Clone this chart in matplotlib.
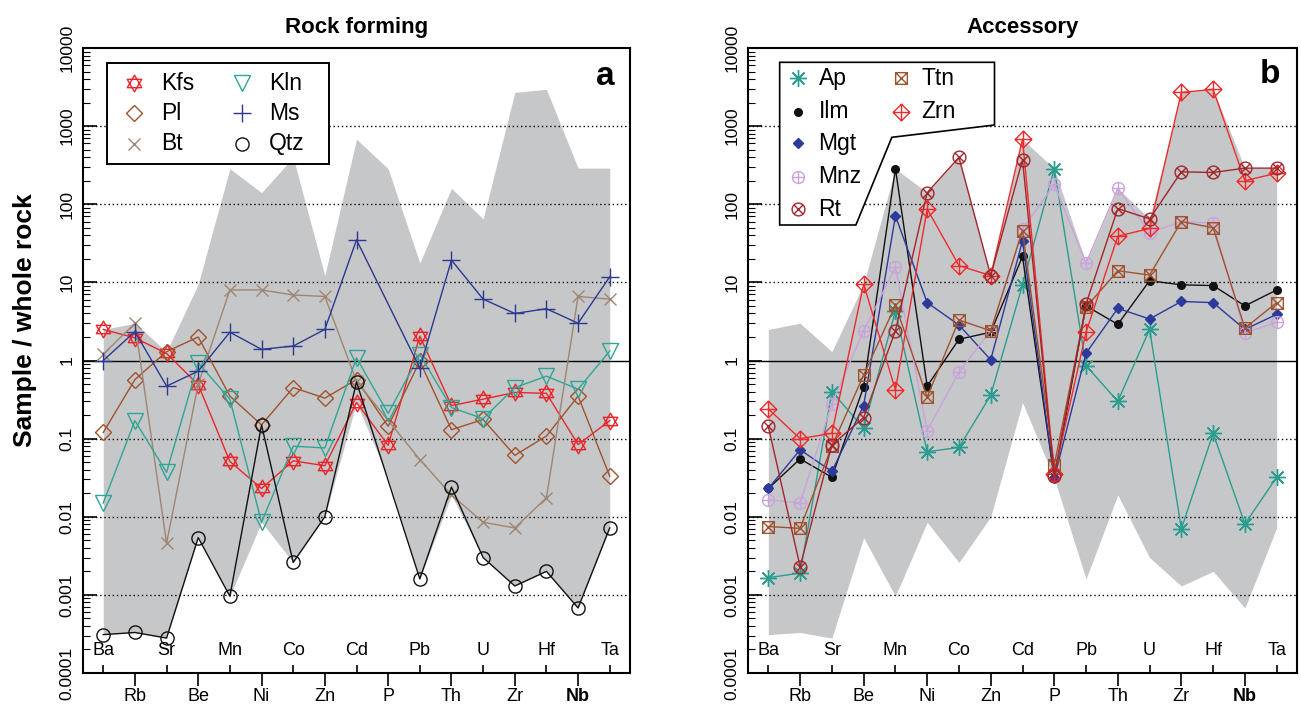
import numpy as np
import matplotlib
matplotlib.use('Agg')
import matplotlib.pyplot as plt
from matplotlib.path import Path
from matplotlib.transforms import Affine2D
from matplotlib.patches import Polygon, Rectangle
from matplotlib.ticker import LogLocator, NullFormatter

plt.rcParams['font.family'] = ['Liberation Sans', 'DejaVu Sans']

# Elements along the x axis
elements = ['Ba', 'Rb', 'Sr', 'Be', 'Mn', 'Ni', 'Co', 'Zn', 'Cd', 'P',
            'Pb', 'Th', 'U', 'Zr', 'Hf', 'Nb', 'Ta']
nan = np.nan

# Rock forming minerals (sample / whole rock)
kfs = [2.5, 1.95, 1.23, 0.49, 0.051, 0.023, 0.052, 0.045, 0.29, 0.082, 2.05, 0.265, 0.32, 0.39, 0.38, 0.084, 0.17]
pl = [0.12, 0.57, 1.3, 2.0, 0.35, 0.15, 0.45, 0.33, 0.57, 0.144, 0.98, 0.13, 0.176, 0.061, 0.108, 0.35, 0.033]
bt = [1.2, 3.0, 0.0046, 0.5, 8.0, 8.0, 6.9, 6.6, 0.54, nan, 0.054, 0.019, 0.0085, 0.0072, 0.0175, 6.6, 6.1]
kln = [0.015, 0.17, 0.037, 0.93, 0.32, 0.0085, 0.08, 0.076, 1.08, 0.21, 1.19, 0.25, 0.18, 0.45, 0.63, 0.43, 1.32]
ms = [1.0, 2.34, 0.47, 0.73, 2.3, 1.39, 1.53, 2.5, 35, nan, 0.8, 19.3, 6.1, 4.0, 4.6, 3.0, 11.8]
qtz = [0.00031, 0.00033, 0.00028, 0.0054, 0.00096, 0.15, 0.0026, 0.01, 0.53, nan, 0.0016, 0.024, 0.003, 0.0013, 0.002, 0.00068, 0.0072]

# Accessory minerals
ap = [0.00166, 0.0019, 0.40, 0.136, 4.3, 0.068, 0.077, 0.36, 9.3, 285, 0.86, 0.30, 2.5, 0.007, 0.117, 0.0081, 0.032]
ilm = [0.023, 0.055, 0.032, 0.46, 285, 0.47, 1.87, 2.3, 21.5, 0.031, 5.0, 2.9, 10.5, 9.3, 9.1, 5.0, 8.0]
mgt = [0.023, 0.072, 0.038, 0.265, 71, 5.5, 2.85, 1.02, 34, 0.031, 1.24, 4.65, 3.4, 5.7, 5.5, 2.5, 3.9]
mnz = [0.0165, 0.015, 0.28, 2.4, 15.6, 0.126, 0.71, 2.4, 48, 180, 17.7, 160, 43, 60, 57, 2.25, 3.1]
ttn = [0.0075, 0.0071, 0.08, 0.65, 5.1, 0.34, 3.3, 2.4, 46, 0.046, 4.8, 14.1, 12.4, 60, 50, 2.6, 5.5]
zrn = [0.24, 0.10, 0.117, 9.5, 0.42, 87, 16.4, 12.2, 680, 0.035, 2.3, 39, 49, 2700, 2960, 200, 250]
rt = [0.143, 0.0023, 0.083, 0.186, 2.4, 141, 398, 12.2, 370, 0.033, 5.3, 88, 65, 260, 255, 290, 290]

y_ticks = [1e-4, 1e-3, 1e-2, 1e-1, 1, 10, 100, 1000, 1e4]
y_ticklabels = ['0.0001', '0.001', '0.01', '0.1', '1', '10', '100', '1000', '10000']
grid_levels = [1e-3, 1e-2, 1e-1, 10, 100, 1000]


# R-like open symbols built from paths
def compound(*parts):
    return Path.make_compound_path(*parts)


seg = lambda a, b: Path([a, b], [Path.MOVETO, Path.LINETO])
tri_up = Path.unit_regular_polygon(3)
star_david = compound(tri_up, tri_up.transformed(Affine2D().rotate_deg(180)))
circle_plus = compound(Path.unit_circle(), seg((-1, 0), (1, 0)), seg((0, -1), (0, 1)))
c = 0.7071
circle_x = compound(Path.unit_circle(), seg((-c, -c), (c, c)), seg((-c, c), (c, -c)))
square = Path([(-1, -1), (1, -1), (1, 1), (-1, 1), (-1, -1)],
              [Path.MOVETO, Path.LINETO, Path.LINETO, Path.LINETO, Path.CLOSEPOLY])
square_x = compound(square, seg((-1, -1), (1, 1)), seg((-1, 1), (1, -1)))
diamond = Path([(0, 1), (1, 0), (0, -1), (-1, 0), (0, 1)],
               [Path.MOVETO, Path.LINETO, Path.LINETO, Path.LINETO, Path.CLOSEPOLY])
diamond_plus = compound(diamond, seg((-1, 0), (1, 0)), seg((0, -1), (0, 1)))

# name, values, colour, marker, size, filled
rock_series = [
    ('Kfs', kfs, '#E8262B', star_david, 12, False),
    ('Pl', pl, '#A0522D', 'D', 8.5, False),
    ('Bt', bt, '#9E8672', 'x', 9, False),
    ('Kln', kln, '#2FA596', 'v', 11, False),
    ('Ms', ms, '#2B3990', '+', 13, False),
    ('Qtz', qtz, '#111111', 'o', 9.5, False),
]
acc_series = [
    ('Ap', ap, '#2A9D8F', (8, 2, 0), 12, False),
    ('Ilm', ilm, '#111111', 'o', 5.5, True),
    ('Mgt', mgt, '#2B3A9B', 'D', 4.8, True),
    ('Mnz', mnz, '#C9A3DB', circle_plus, 8.6, False),
    ('Ttn', ttn, '#A0522D', square_x, 8.4, False),
    ('Zrn', zrn, '#EE2C2C', diamond_plus, 12, False),
    ('Rt', rt, '#A2262B', circle_x, 9.2, False),
]

x = np.arange(1, len(elements) + 1)

# grey envelope: range of all minerals
all_vals = np.array([s[1] for s in rock_series + acc_series], dtype=float)
env_low = np.nanmin(all_vals, axis=0)
env_high = np.nanmax(all_vals, axis=0)

fig = plt.figure(figsize=(13.01, 7.08), dpi=100)
ax1 = fig.add_axes([83 / 1301, 35 / 708, 547 / 1301, 625 / 708])
ax2 = fig.add_axes([748 / 1301, 35 / 708, 549 / 1301, 625 / 708])


def setup_axes(ax, title):
    ax.set_yscale('log')
    ax.set_ylim(1e-4, 1e4)
    ax.set_xlim(0.36, 17.64)
    ax.fill_between(x, env_low, env_high, color='#C6C7C9', lw=0, zorder=0.5)
    for lev in grid_levels:
        ax.axhline(lev, color='black', lw=1.0, ls=(0, (1, 2)), zorder=1)
    ax.axhline(1, color='black', lw=1.0, zorder=1)

    ax.set_yticks(y_ticks, labels=y_ticklabels)
    ax.yaxis.set_minor_locator(LogLocator(base=10, subs=np.arange(2, 10), numticks=100))
    ax.yaxis.set_minor_formatter(NullFormatter())
    ax.tick_params(axis='y', which='major', direction='in', length=10, width=1.2,
                   pad=6, labelsize=12.5, labelrotation=90)
    ax.tick_params(axis='y', which='minor', direction='in', length=5, width=0.8)
    for lab in ax.get_yticklabels():
        lab.set_va('center')

    # alternate element labels: odd ones inside, even ones below
    ax.set_xticks(x[::2], labels=elements[::2])
    ax.set_xticks(x[1::2], labels=elements[1::2], minor=True)
    ax.tick_params(axis='x', which='major', direction='in', length=6, width=1.2,
                   pad=-22, labelsize=13)
    ax.tick_params(axis='x', which='minor', direction='out', length=9, width=1.2,
                   pad=2, labelsize=13)
    for lab in ax.get_xticklabels(minor=True):
        if lab.get_text() == 'Nb':
            lab.set_fontweight('bold')

    for sp in ax.spines.values():
        sp.set_linewidth(1.5)
    ax.set_title(title, fontsize=16, fontweight='bold', pad=11)


def draw_series(ax, series):
    for name, vals, col, mk, size, filled in series:
        v = np.array(vals, dtype=float)
        ok = np.isfinite(v)
        ax.plot(x[ok], v[ok], color=col, lw=1.0, marker=mk, ms=size,
                mfc=col if filled else 'none', mec=col, mew=1.0, zorder=3)


def legend_key(ax, xk, yk, xt, entry):
    name, vals, col, mk, size, filled = entry
    ax.plot([xk], [yk], transform=ax.transAxes, ls='none', marker=mk, ms=size,
            mfc=col if filled else 'none', mec=col, mew=1.0, clip_on=False, zorder=6)
    ax.text(xt, yk, name, transform=ax.transAxes, fontsize=16.5, ha='left',
            va='center', zorder=6)


setup_axes(ax1, 'Rock forming')
setup_axes(ax2, 'Accessory')
draw_series(ax1, rock_series)
draw_series(ax2, acc_series)

ax1.set_ylabel('Sample / whole rock', fontsize=19, fontweight='bold')
ax1.yaxis.set_label_coords(-0.084, 0.565)

# Left legend (two columns, three rows)
ax1.add_patch(Rectangle((0.044, 0.814), 0.406, 0.162, transform=ax1.transAxes,
                        facecolor='white', edgecolor='black', lw=1.4, zorder=5))
rows = [0.944, 0.896, 0.847]
for i, entry in enumerate(rock_series):
    col, row = divmod(i, 3)
    if col == 0:
        legend_key(ax1, 0.093, rows[row], 0.143, entry)
    else:
        legend_key(ax1, 0.291, rows[row], 0.340, entry)

# Right legend with its cut-away frame
frame = [(0.0577, 0.9771), (0.4490, 0.9771), (0.4490, 0.8768), (0.2620, 0.8571),
         (0.1965, 0.7168), (0.0577, 0.7168)]
ax2.add_patch(Polygon(frame, closed=True, transform=ax2.transAxes, facecolor='white',
                      edgecolor='black', lw=1.2, zorder=5))
rows2 = [0.9515, 0.8981, 0.8475, 0.7941, 0.7424]
col1 = [acc_series[i] for i in (0, 1, 2, 3, 6)]
col2 = [acc_series[i] for i in (4, 5)]
for r, entry in zip(rows2, col1):
    legend_key(ax2, 0.0913, r, 0.1286, entry)
for r, entry in zip(rows2, col2):
    legend_key(ax2, 0.2794, r, 0.3158, entry)

ax1.text(0.954, 0.954, 'a', transform=ax1.transAxes, ha='center', va='center',
         fontsize=24, fontweight='bold')
ax2.text(0.951, 0.957, 'b', transform=ax2.transAxes, ha='center', va='center',
         fontsize=24, fontweight='bold')

fig.savefig('out.png', dpi=100)
plt.close(fig)
